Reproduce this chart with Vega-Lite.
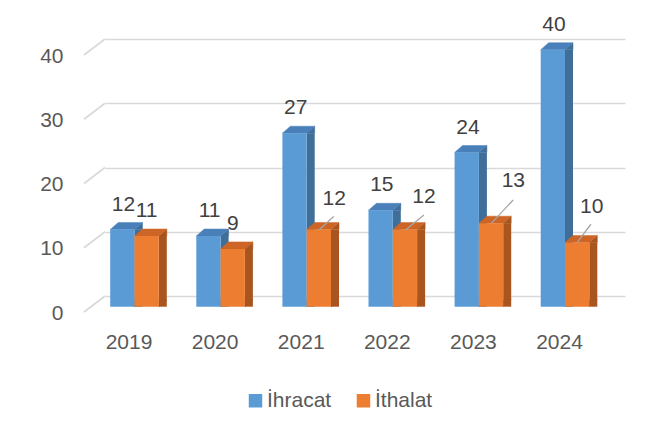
{
  "$schema": "https://vega.github.io/schema/vega-lite/v6.json",
  "width": 520,
  "height": 257,
  "autosize": {"type": "none"},
  "padding": {"left": 105, "top": 39, "right": 43, "bottom": 141},
  "background": "white",
  "config": {"view": {"stroke": null}, "font": "Liberation Sans"},
  "datasets": {
    "trade": [
      {"year": "2019", "series": "İhracat", "value": 12},
      {"year": "2020", "series": "İhracat", "value": 11},
      {"year": "2021", "series": "İhracat", "value": 27},
      {"year": "2022", "series": "İhracat", "value": 15},
      {"year": "2023", "series": "İhracat", "value": 24},
      {"year": "2024", "series": "İhracat", "value": 40},
      {"year": "2019", "series": "İthalat", "value": 11},
      {"year": "2020", "series": "İthalat", "value": 9},
      {"year": "2021", "series": "İthalat", "value": 12},
      {"year": "2022", "series": "İthalat", "value": 12},
      {"year": "2023", "series": "İthalat", "value": 13},
      {"year": "2024", "series": "İthalat", "value": 10}
    ],
    "ticks": [{"t": 0}, {"t": 10}, {"t": 20}, {"t": 30}, {"t": 40}]
  },
  "data": {"name": "trade"},
  "encoding": {
    "x": {"field": "year", "type": "ordinal", "title": null,
      "scale": {"type": "point", "padding": 0.5197, "align": 0.3296},
      "axis": {"title": null, "domain": false, "ticks": false, "labelFontSize": 21, "labelColor": "#595959", "labelPadding": 35, "labelOffset": -6, "labelAngle": 0, "labelFont": "Liberation Sans"}},
    "y": {"field": "value", "type": "quantitative", "title": null,
      "scale": {"domain": [0, 40], "nice": false},
      "axis": {"title": null, "domain": false, "ticks": false, "grid": true, "gridColor": "#D9D9D9", "gridWidth": 1.6, "values": [0, 10, 20, 30, 40], "labelFontSize": 21, "labelColor": "#595959", "labelPadding": 42, "labelOffset": 17, "labelFont": "Liberation Sans"}}
  },
  "layer": [
    {
      "data": {"name": "ticks"},
      "mark": {"type": "rule", "color": "#D9D9D9", "strokeWidth": 1.6, "y2Offset": 16},
      "encoding": {
        "x": {"value": 0},
        "x2": {"value": -21},
        "y": {"field": "t", "type": "quantitative", "title": null},
        "y2": {"field": "t"}
      }
    },
    {
      "transform": [{"filter": "datum.series === 'İhracat'"}],
      "mark": {"type": "bar", "width": 8, "xOffset": 4, "yOffset": 10.7, "y2Offset": 3.7, "color": "#3F6E99"}
    },
    {
      "transform": [{"filter": "datum.series === 'İhracat'"}],
      "mark": {"type": "point", "shape": "M0,0L8,-7L8,0Z", "size": 4, "filled": true, "opacity": 1, "color": "#3F6E99", "stroke": "#3F6E99", "strokeWidth": 0.5, "xOffset": 0, "yOffset": 10.7}
    },
    {
      "transform": [{"filter": "datum.series === 'İhracat'"}],
      "mark": {"type": "point", "shape": "M0,0L0,-7L8,-7Z", "size": 4, "filled": true, "opacity": 1, "color": "#3F6E99", "stroke": "#3F6E99", "strokeWidth": 0.5, "xOffset": 0, "yOffset": 10.7},
      "encoding": {
        "y": {"datum": 0, "type": "quantitative", "title": null}
      }
    },
    {
      "transform": [{"filter": "datum.series === 'İhracat'"}],
      "mark": {"type": "point", "shape": "M0,0L24.3,0L32.3,-7L8,-7Z", "size": 4, "filled": true, "opacity": 1, "color": "#4A80BA", "stroke": "#4A80BA", "strokeWidth": 0.5, "xOffset": -24.3, "yOffset": 10.7}
    },
    {
      "transform": [{"filter": "datum.series === 'İhracat'"}],
      "mark": {"type": "bar", "width": 24.3, "xOffset": -12.15, "yOffset": 10.7, "y2Offset": 10.7},
      "encoding": {
        "color": {"field": "series", "type": "nominal", "scale": {"domain": ["İhracat", "İthalat"], "range": ["#5B9BD5", "#ED7D31"]}, "legend": {"title": null, "orient": "none", "legendX": 140, "legendY": 351, "direction": "horizontal", "symbolType": "square", "symbolSize": 182, "symbolStrokeWidth": 0, "labelFontSize": 21, "labelColor": "#595959", "labelOffset": 1, "columnPadding": 21, "padding": 0, "labelFont": "Liberation Sans"}}
      }
    },
    {
      "transform": [{"filter": "datum.series === 'İthalat'"}],
      "mark": {"type": "bar", "width": 8, "xOffset": 28.3, "yOffset": 10.7, "y2Offset": 3.7, "color": "#A9551F"}
    },
    {
      "transform": [{"filter": "datum.series === 'İthalat'"}],
      "mark": {"type": "point", "shape": "M0,0L8,-7L8,0Z", "size": 4, "filled": true, "opacity": 1, "color": "#A9551F", "stroke": "#A9551F", "strokeWidth": 0.5, "xOffset": 24.3, "yOffset": 10.7}
    },
    {
      "transform": [{"filter": "datum.series === 'İthalat'"}],
      "mark": {"type": "point", "shape": "M0,0L0,-7L8,-7Z", "size": 4, "filled": true, "opacity": 1, "color": "#A9551F", "stroke": "#A9551F", "strokeWidth": 0.5, "xOffset": 24.3, "yOffset": 10.7},
      "encoding": {
        "y": {"datum": 0, "type": "quantitative", "title": null}
      }
    },
    {
      "transform": [{"filter": "datum.series === 'İthalat'"}],
      "mark": {"type": "point", "shape": "M0,0L24.3,0L32.3,-7L8,-7Z", "size": 4, "filled": true, "opacity": 1, "color": "#CC6526", "stroke": "#CC6526", "strokeWidth": 0.5, "xOffset": 0, "yOffset": 10.7}
    },
    {
      "transform": [{"filter": "datum.series === 'İthalat'"}],
      "mark": {"type": "bar", "width": 24.3, "xOffset": 12.15, "yOffset": 10.7, "y2Offset": 10.7},
      "encoding": {
        "color": {"field": "series", "type": "nominal", "legend": null}
      }
    },
    {
      "transform": [{"filter": "datum.series === 'İthalat' && datum.year === '2021'"}],
      "mark": {"type": "rule", "color": "#A6A6A6", "strokeWidth": 1.3, "xOffset": 12.15, "x2Offset": 27, "yOffset": 11, "y2Offset": -2.3},
      "encoding": {"x2": {"field": "year"}, "y2": {"field": "value"}}
    },
    {
      "transform": [{"filter": "datum.series === 'İthalat' && datum.year === '2022'"}],
      "mark": {"type": "rule", "color": "#A6A6A6", "strokeWidth": 1.3, "xOffset": 12.75, "x2Offset": 31.15, "yOffset": 11, "y2Offset": -4},
      "encoding": {"x2": {"field": "year"}, "y2": {"field": "value"}}
    },
    {
      "transform": [{"filter": "datum.series === 'İthalat' && datum.year === '2023'"}],
      "mark": {"type": "rule", "color": "#A6A6A6", "strokeWidth": 1.3, "xOffset": 12.65, "x2Offset": 34.25, "yOffset": 10.7, "y2Offset": -12.5},
      "encoding": {"x2": {"field": "year"}, "y2": {"field": "value"}}
    },
    {
      "transform": [{"filter": "datum.series === 'İthalat' && datum.year === '2024'"}],
      "mark": {"type": "rule", "color": "#A6A6A6", "strokeWidth": 1.3, "xOffset": 12.15, "x2Offset": 25.95, "yOffset": 10.7, "y2Offset": -7.5},
      "encoding": {"x2": {"field": "year"}, "y2": {"field": "value"}}
    },
    {
      "transform": [{"filter": "datum.series === 'İhracat'"}],
      "mark": {"type": "text", "font": "Liberation Sans", "fontSize": 21, "color": "#404040", "baseline": "middle", "align": "center", "xOffset": -11, "yOffset": -14.3},
      "encoding": {"text": {"field": "value", "type": "quantitative"}}
    },
    {
      "transform": [{"filter": "datum.series === 'İthalat' && (datum.year === '2019' || datum.year === '2020')"}],
      "mark": {"type": "text", "font": "Liberation Sans", "fontSize": 21, "color": "#404040", "baseline": "middle", "align": "center", "xOffset": 12.15, "yOffset": -14.6},
      "encoding": {"text": {"field": "value", "type": "quantitative"}}
    },
    {
      "transform": [{"filter": "datum.series === 'İthalat' && datum.year === '2021'"}],
      "mark": {"type": "text", "font": "Liberation Sans", "fontSize": 21, "color": "#404040", "baseline": "middle", "align": "center", "xOffset": 27.45, "yOffset": -19.5},
      "encoding": {"text": {"field": "value", "type": "quantitative"}}
    },
    {
      "transform": [{"filter": "datum.series === 'İthalat' && datum.year === '2022'"}],
      "mark": {"type": "text", "font": "Liberation Sans", "fontSize": 21, "color": "#404040", "baseline": "middle", "align": "center", "xOffset": 31.15, "yOffset": -22.3},
      "encoding": {"text": {"field": "value", "type": "quantitative"}}
    },
    {
      "transform": [{"filter": "datum.series === 'İthalat' && datum.year === '2023'"}],
      "mark": {"type": "text", "font": "Liberation Sans", "fontSize": 21, "color": "#404040", "baseline": "middle", "align": "center", "xOffset": 34.45, "yOffset": -31.2},
      "encoding": {"text": {"field": "value", "type": "quantitative"}}
    },
    {
      "transform": [{"filter": "datum.series === 'İthalat' && datum.year === '2024'"}],
      "mark": {"type": "text", "font": "Liberation Sans", "fontSize": 21, "color": "#404040", "baseline": "middle", "align": "center", "xOffset": 26.65, "yOffset": -24.8},
      "encoding": {"text": {"field": "value", "type": "quantitative"}}
    }
  ]
}
